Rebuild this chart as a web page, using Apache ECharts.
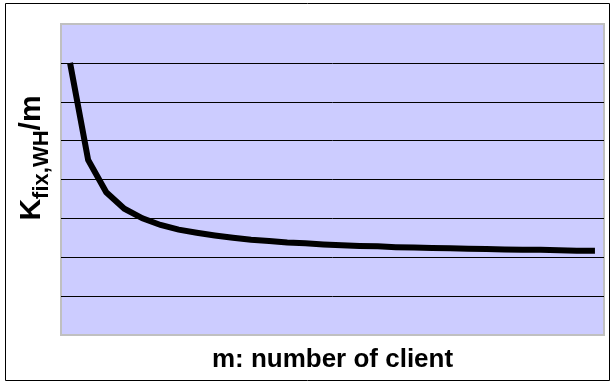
<!DOCTYPE html>
<html>
<head>
<meta charset="utf-8">
<script src="https://cdn.jsdelivr.net/npm/echarts@6/dist/echarts.min.js"></script>
<style>
  html, body { margin: 0; padding: 0; background: #fff; }
  #chart { width: 616px; height: 388px; }
</style>
</head>
<body>
<div id="chart"></div>
<script>
// number of clients m
const clients = [1, 2, 3, 4, 5, 6, 7, 8, 9, 10, 11, 12, 13, 14, 15,
                 16, 17, 18, 19, 20, 21, 22, 23, 24, 25, 26, 27, 28, 29, 30];
// fixed cost per client
const costPerClient = [7.00, 4.50, 3.67, 3.25, 3.00, 2.83, 2.71, 2.63, 2.56, 2.50,
                       2.45, 2.42, 2.38, 2.36, 2.33, 2.31, 2.29, 2.28, 2.26, 2.25,
                       2.24, 2.23, 2.22, 2.21, 2.20, 2.19, 2.19, 2.18, 2.17, 2.17];
// value axis ticks
const yTicks = [0, 1, 2, 3, 4, 5, 6, 7, 8];

const xTitle = 'm: number of client';
const font = 'Liberation Sans, Arial, sans-serif';

const chart = echarts.init(document.getElementById('chart'), null, { renderer: 'canvas' });

// inner gridlines only; the plot border covers the first and last
const gridColors = yTicks.map((v, i) => (i === 0 || i === yTicks.length - 1) ? 'rgba(0,0,0,0)' : '#000');

chart.setOption({
  animation: false,
  backgroundColor: '#fff',
  textStyle: { fontFamily: font },
  grid: {
    left: 61, top: 24, right: 12, bottom: 53,
    show: true,
    backgroundColor: '#CCCCFF',
    borderColor: '#C0C0C0',
    borderWidth: 2
  },
  xAxis: {
    type: 'category',
    data: clients,
    boundaryGap: true,
    axisLine: { show: false },
    axisTick: { show: false },
    axisLabel: { show: false },
    splitLine: { show: false },
    name: xTitle,
    nameLocation: 'middle',
    nameGap: 12,
    nameTextStyle: { fontSize: 26, fontWeight: 'bold', color: '#000', fontFamily: font, verticalAlign: 'top' }
  },
  yAxis: {
    type: 'value',
    min: yTicks[0],
    max: yTicks[yTicks.length - 1],
    interval: 1,
    axisLine: { show: false },
    axisTick: { show: false },
    axisLabel: { show: false },
    splitLine: { show: true, lineStyle: { color: gridColors, width: 1 } }
  },
  graphic: [
    {
      type: 'rect',
      shape: { x: 5.5, y: 3.5, width: 604, height: 377 },
      style: { fill: null, stroke: '#000', lineWidth: 1 },
      silent: true,
      z: 10
    },
    {
      type: 'text',
      x: 32, y: 158,
      rotation: Math.PI / 2,
      style: {
        text: '{k|K}{s|fix,WH}{k|/m}',
        align: 'center',
        verticalAlign: 'middle',
        rich: {
          k: { fontSize: 30, fontWeight: 'bold', fill: '#000', fontFamily: font, verticalAlign: 'bottom' },
          s: { fontSize: 22, fontWeight: 'bold', fill: '#000', fontFamily: font, verticalAlign: 'bottom', padding: [0, 0, -6, 0] }
        }
      },
      z: 10
    }
  ],
  series: [{
    type: 'line',
    data: costPerClient,
    symbol: 'none',
    lineStyle: { color: '#000', width: 6, cap: 'butt', join: 'miter' }
  }]
});
</script>
</body>
</html>
